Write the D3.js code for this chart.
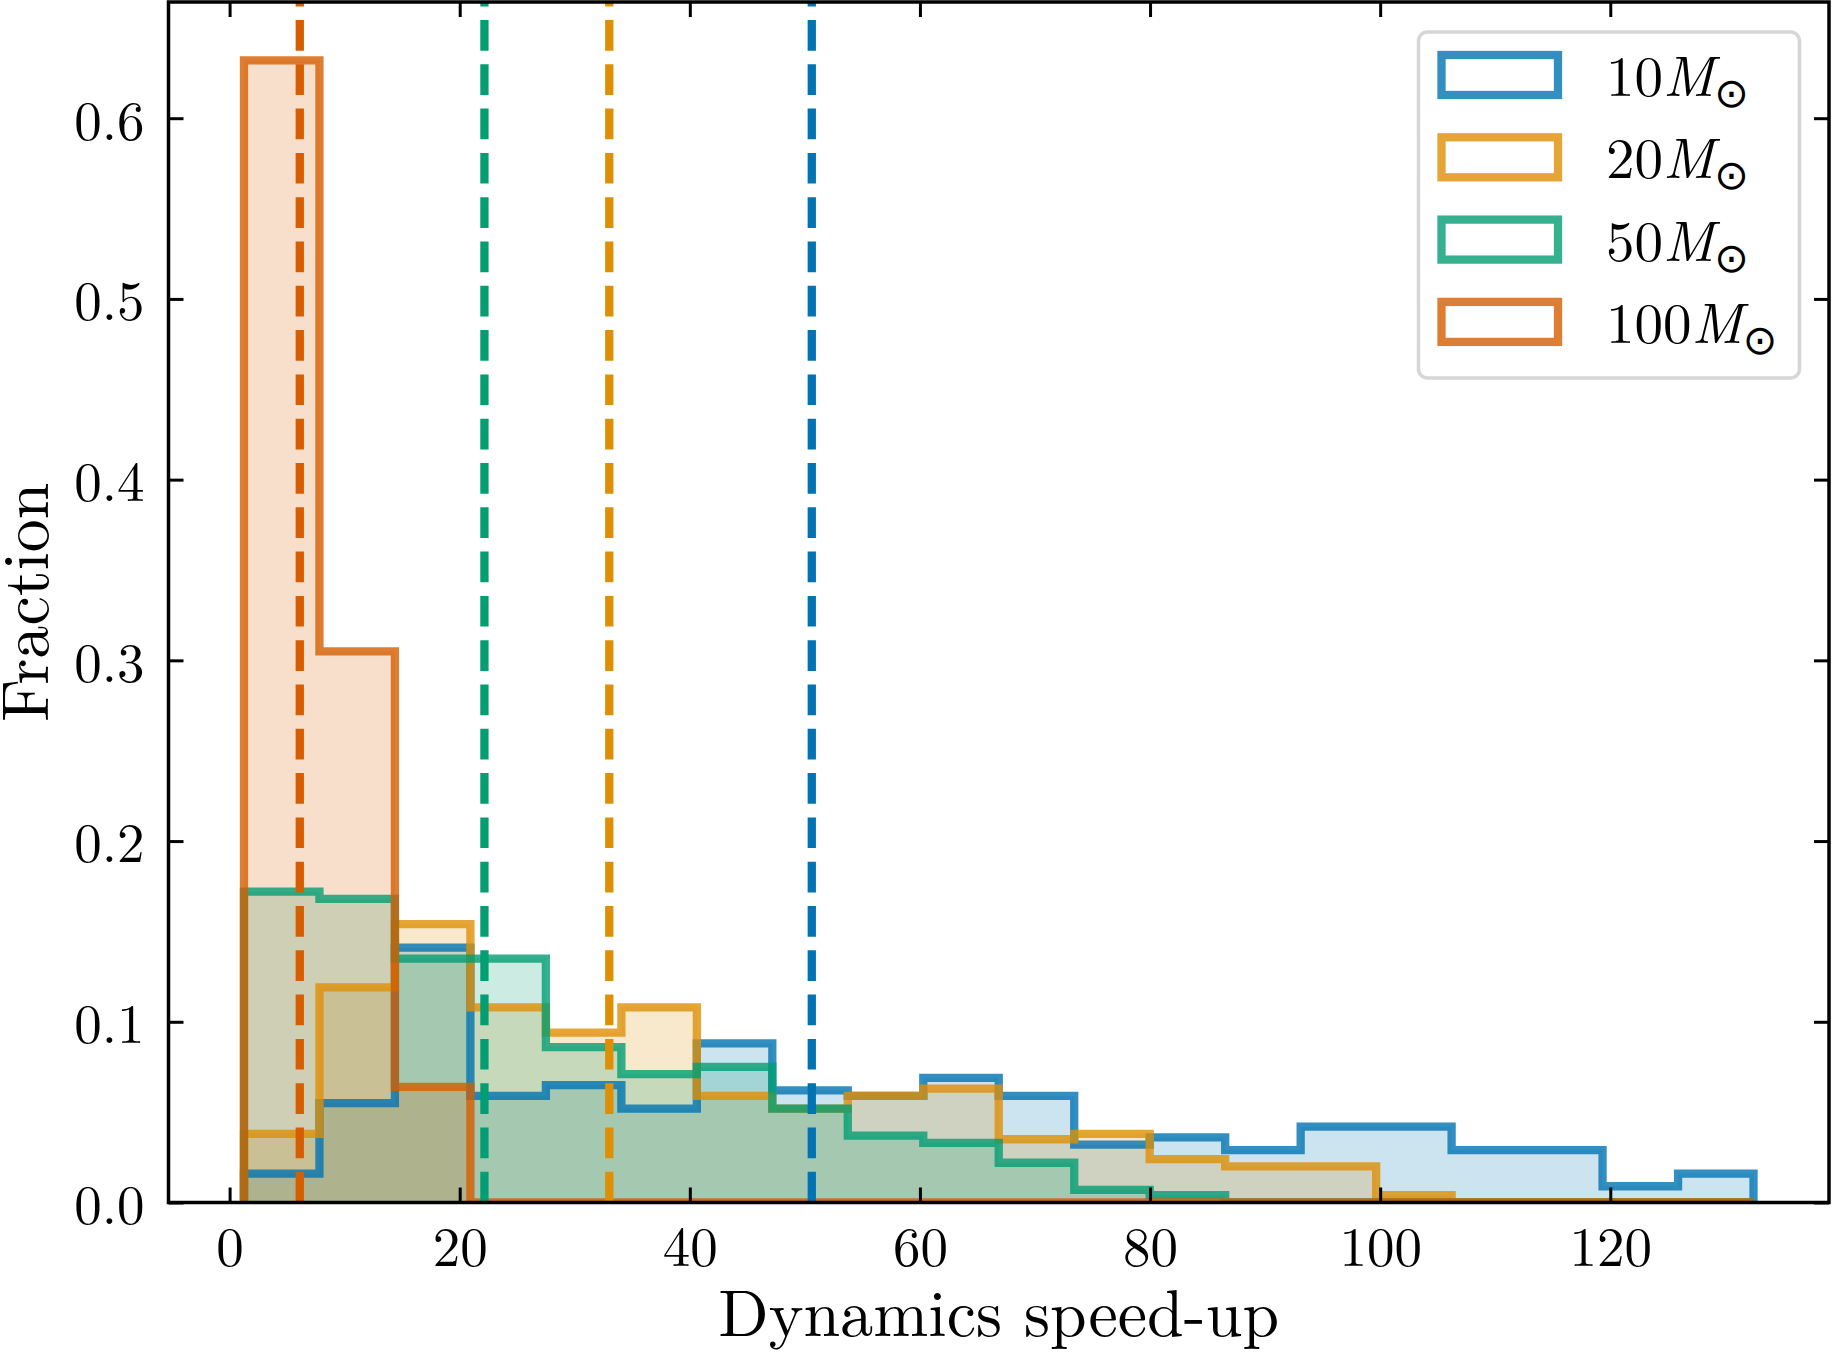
<!DOCTYPE html>
<html>
<head>
<meta charset="utf-8">
<script src="https://cdn.jsdelivr.net/npm/d3@7"></script>
<style>
  body { margin: 0; background: #fff; }
  text { font-family: "Latin Modern Roman", "CMU Serif", "Liberation Serif", serif; fill: #000; }
</style>
</head>
<body>
<div id="chart"></div>
<script>
/* DATA */
// common bin edges of the four histograms
const binEdges = [1.25, 7.81, 14.37, 20.93, 27.49, 34.05, 40.61, 47.17, 53.73, 60.29, 66.85,
  73.41, 79.97, 86.53, 93.09, 99.65, 106.21, 112.77, 119.33, 125.89, 132.45];

const masses = ["10", "20", "50", "100"];

// fraction per bin
const frac10 = [0.016, 0.055, 0.141, 0.059, 0.065, 0.052, 0.088, 0.062, 0.059, 0.069,
  0.059, 0.032, 0.036, 0.029, 0.042, 0.042, 0.029, 0.029, 0.009, 0.016];
const frac20 = [0.038, 0.119, 0.154, 0.108, 0.094, 0.108, 0.059, 0.052, 0.059, 0.063,
  0.035, 0.038, 0.024, 0.020, 0.020, 0.004, 0, 0, 0, 0];
const frac50 = [0.172, 0.168, 0.135, 0.135, 0.086, 0.071, 0.075, 0.052, 0.037, 0.033,
  0.022, 0.007, 0.004, 0, 0, 0, 0, 0, 0, 0];
const frac100 = [0.632, 0.305, 0.064, 0, 0, 0, 0, 0, 0, 0,
  0, 0, 0, 0, 0, 0, 0, 0, 0, 0];

// dashed vertical lines
const medians = [50.6, 33.0, 22.15, 6.1];

const xTicks = [0, 20, 40, 60, 80, 100, 120];
const yTicks = [0, 0.1, 0.2, 0.3, 0.4, 0.5, 0.6];

const colors = ["#0173b2", "#de8f05", "#029e73", "#d55e00"];

/* LAYOUT */
const width = 1832, height = 1353;
const plot = { left: 168.5, right: 1829, top: 2, bottom: 1202.5 };
const lw = 8.3;

const series = masses.map((m, i) => ({
  label: m,
  values: [frac10, frac20, frac50, frac100][i],
  color: colors[i]
}));

const svg = d3.select("#chart").append("svg")
  .attr("width", width)
  .attr("height", height);

const xScale = d3.scaleLinear().domain([-5.31, 139.01]).range([plot.left, plot.right]);
const yScale = d3.scaleLinear().domain([0, 0.6643]).range([plot.bottom, plot.top]);

svg.append("clipPath").attr("id", "clip")
  .append("rect")
  .attr("x", plot.left).attr("y", plot.top)
  .attr("width", plot.right - plot.left).attr("height", plot.bottom - plot.top);

// step outline points for one histogram
function stepPoints(values) {
  const pts = [[binEdges[0], 0]];
  values.forEach((v, i) => {
    pts.push([binEdges[i], v]);
    pts.push([binEdges[i + 1], v]);
  });
  pts.push([binEdges[binEdges.length - 1], 0]);
  return pts;
}

const line = d3.line().x(d => xScale(d[0])).y(d => yScale(d[1]));

const g = svg.append("g").attr("clip-path", "url(#clip)");

// filled areas first, outlines on top
g.selectAll(".fill")
  .data(series)
  .join("path")
  .attr("class", "fill")
  .attr("d", d => line(stepPoints(d.values)) + "Z")
  .attr("fill", d => d.color)
  .attr("fill-opacity", 0.2)
  .attr("stroke", "none");

g.selectAll(".step")
  .data(series)
  .join("path")
  .attr("class", "step")
  .attr("d", d => line(stepPoints(d.values)))
  .attr("fill", "none")
  .attr("stroke", d => d.color)
  .attr("stroke-opacity", 0.8)
  .attr("stroke-width", lw)
  .attr("stroke-linejoin", "miter");

// dashed lines, dashes start at the bottom
g.selectAll(".median")
  .data(medians)
  .join("line")
  .attr("class", "median")
  .attr("x1", d => xScale(d)).attr("x2", d => xScale(d))
  .attr("y1", plot.bottom).attr("y2", plot.top)
  .attr("stroke", (d, i) => colors[i])
  .attr("stroke-width", lw)
  .attr("stroke-dasharray", "30.7,13.6");

/* AXES */
const tickLen = 15;
const bottomAxis = svg.append("g")
  .attr("transform", `translate(0,${plot.bottom})`)
  .call(d3.axisBottom(xScale).tickValues(xTicks).tickSizeInner(-tickLen).tickSizeOuter(0).tickPadding(24));
const leftAxis = svg.append("g")
  .attr("transform", `translate(${plot.left},0)`)
  .call(d3.axisLeft(yScale).tickValues(yTicks).tickFormat(d3.format(".1f"))
    .tickSizeInner(-tickLen).tickSizeOuter(0).tickPadding(24));
const topAxis = svg.append("g")
  .attr("transform", `translate(0,${plot.top})`)
  .call(d3.axisTop(xScale).tickValues(xTicks).tickFormat("").tickSizeInner(-tickLen).tickSizeOuter(0));
const rightAxis = svg.append("g")
  .attr("transform", `translate(${plot.right},0)`)
  .call(d3.axisRight(yScale).tickValues(yTicks).tickFormat("").tickSizeInner(-tickLen).tickSizeOuter(0));

[bottomAxis, leftAxis, topAxis, rightAxis].forEach(a => {
  a.select(".domain").remove();
  a.selectAll(".tick line").attr("stroke", "#000").attr("stroke-width", 3);
  a.selectAll("text").attr("font-size", 55).attr("font-family", null).attr("fill", "#000");
});
leftAxis.selectAll("text").attr("dy", "0.38em");

svg.append("rect")
  .attr("x", plot.left).attr("y", plot.top)
  .attr("width", plot.right - plot.left).attr("height", plot.bottom - plot.top)
  .attr("fill", "none")
  .attr("stroke", "#000")
  .attr("stroke-width", 3.5);

// axis labels
svg.append("text")
  .attr("x", (plot.left + plot.right) / 2)
  .attr("y", 1336)
  .attr("text-anchor", "middle")
  .attr("font-size", 66)
  .text("Dynamics speed-up");

svg.append("text")
  .attr("transform", `translate(48,${(plot.top + plot.bottom) / 2}) rotate(-90)`)
  .attr("text-anchor", "middle")
  .attr("font-size", 66)
  .text("Fraction");

/* LEGEND */
const legend = svg.append("g");
legend.append("rect")
  .attr("x", 1418.5).attr("y", 32)
  .attr("width", 381).attr("height", 346)
  .attr("rx", 9)
  .attr("fill", "#fff")
  .attr("stroke", "#d6d6d6")
  .attr("stroke-width", 3.5);

const rows = legend.selectAll(".item")
  .data(series)
  .join("g")
  .attr("class", "item")
  .attr("transform", (d, i) => `translate(0,${75 + i * 82.3})`);

rows.append("rect")
  .attr("x", 1441.5).attr("y", -20)
  .attr("width", 116.5).attr("height", 40)
  .attr("fill", "#fff")
  .attr("stroke", d => d.color)
  .attr("stroke-opacity", 0.8)
  .attr("stroke-width", lw);

const label = rows.append("text")
  .attr("x", 1606)
  .attr("y", 21)
  .attr("font-size", 57);
label.append("tspan").text(d => d.label);
label.append("tspan").attr("font-style", "italic").text("M");
label.append("tspan")
  .attr("dy", 11)
  .attr("font-size", 41)
  .attr("font-family", "DejaVu Sans")
  .text("\u2299");
</script>
</body>
</html>
